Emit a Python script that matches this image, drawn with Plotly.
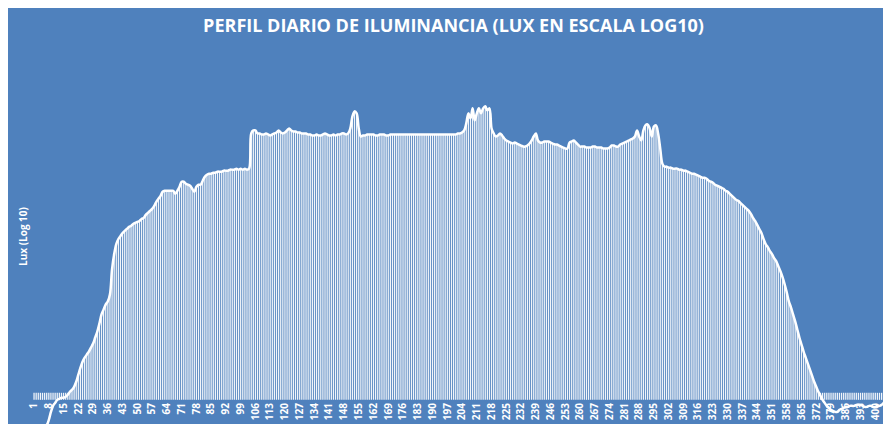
import plotly.graph_objects as go

# lecturas (altura sobre la base, en pixeles de la imagen; 54 px = 1 unidad log10)
lux_px = [
    -28, -28, -28, -27, -27, -26, -25, -20, -12, -6,
    -3, 0, 1, 2, 2, 3, 5, 8, 10, 13,
    18, 25, 32, 38, 42, 45, 48, 52, 56, 62,
    68, 76, 85, 90, 95, 98, 105, 130, 145, 155,
    160, 163, 166, 168, 170, 172, 173, 175, 176, 177,
    178, 180, 181, 184, 186, 188, 190, 193, 197, 200,
    203, 207, 208, 208, 208, 208, 208, 205, 208, 212,
    217, 217, 215, 214, 213, 210, 207, 212, 214, 214,
    218, 222, 224, 225, 225, 226, 226, 227, 227, 227,
    228, 228, 228, 229, 229, 229, 230, 229, 230, 229,
    230, 229, 230, 265, 268, 268, 265, 265, 264, 264,
    265, 264, 263, 264, 265, 266, 268, 266, 265, 266,
    268, 270, 268, 267, 267, 266, 266, 265, 265, 265,
    264, 264, 263, 263, 264, 263, 263, 264, 265, 264,
    263, 263, 264, 263, 264, 264, 265, 265, 264, 265,
    270, 282, 287, 285, 270, 262, 263, 263, 264, 264,
    264, 264, 263, 263, 264, 264, 264, 263, 263, 264,
    264, 264, 264, 264, 264, 264, 264, 264, 264, 264,
    264, 264, 264, 264, 264, 264, 264, 264, 264, 264,
    264, 264, 264, 264, 264, 264, 264, 264, 264, 264,
    264, 265, 265, 266, 268, 275, 285, 280, 290, 278,
    285, 290, 285, 290, 292, 288, 290, 270, 265, 262,
    263, 265, 263, 260, 258, 257, 256, 255, 256, 255,
    254, 253, 252, 252, 253, 255, 258, 262, 265, 258,
    256, 256, 257, 257, 257, 256, 255, 254, 254, 253,
    252, 251, 250, 250, 256, 257, 258, 256, 254, 252,
    252, 252, 251, 251, 251, 252, 252, 251, 251, 251,
    250, 250, 250, 251, 253, 253, 252, 252, 254, 255,
    256, 257, 258, 259, 260, 262, 268, 262, 258, 268,
    273, 274, 270, 262, 272, 273, 265, 250, 235, 232,
    232, 231, 231, 230, 230, 230, 229, 229, 228, 228,
    227, 226, 225, 225, 224, 223, 222, 221, 221, 220,
    218, 217, 216, 214, 213, 212, 211, 210, 208, 207,
    205, 203, 201, 199, 198, 196, 194, 192, 190, 188,
    185, 181, 178, 174, 170, 166, 160, 155, 152, 148,
    145, 141, 138, 133, 128, 122, 115, 107, 98, 92,
    85, 78, 70, 62, 55, 48, 42, 36, 30, 24,
    18, 13, 8, 4, 0, -3, -6, -8, -10, -11,
    -12, -12, -10, -9, -8, -7, -7, -6, -6, -6,
    -5, -5, -5, -6, -7, -7, -6, -6, -7, -7,
    -6, -6, -5, -3, -1, 0,
]
PX = 54.0
lux_log = [v / PX for v in lux_px]
idx = list(range(1, len(lux_log) + 1))
bar_min = 7 / PX
barras = [max(v, bar_min) for v in lux_log]
ticks = list(range(1, len(idx) + 1, 7))

BG = "#4F81BD"
fig = go.Figure()
fig.add_trace(go.Bar(x=idx, y=barras, marker=dict(color="rgba(255,255,255,0.92)", line_width=0),
                     showlegend=False))
fig.add_trace(go.Scatter(x=idx, y=lux_log, mode="lines", line=dict(color="white", width=2.5, shape="spline"),
                         showlegend=False, cliponaxis=False))

fig.update_layout(
    width=891, height=424,
    paper_bgcolor=BG, plot_bgcolor=BG,
    margin=dict(l=25, r=10, t=33, b=0),
    bargap=0.4,
    title=dict(text="<b>PERFIL DIARIO DE ILUMINANCIA (LUX EN ESCALA LOG10)</b>", x=0.5, y=0.958,
               xanchor="center", yanchor="middle",
               font=dict(family="Open Sans", size=18, color="white")),
    xaxis=dict(range=[0.5, len(idx) + 0.5], tickvals=ticks,
               ticktext=["<b>%d</b>" % t for t in ticks],
               tickangle=-90, tickfont=dict(family="Open Sans", size=10, color="white"),
               showgrid=False, zeroline=False, showline=False, anchor="free",
               position=32 / 391, ticks=""),
    yaxis=dict(range=[-32 / PX, 357 / PX], showticklabels=False, showgrid=False, zeroline=False,
               title=dict(text="<b>Lux (Log 10)</b>", standoff=2,
                          font=dict(family="Open Sans", size=10, color="white"))),
)
fig.write_html("out.html")
